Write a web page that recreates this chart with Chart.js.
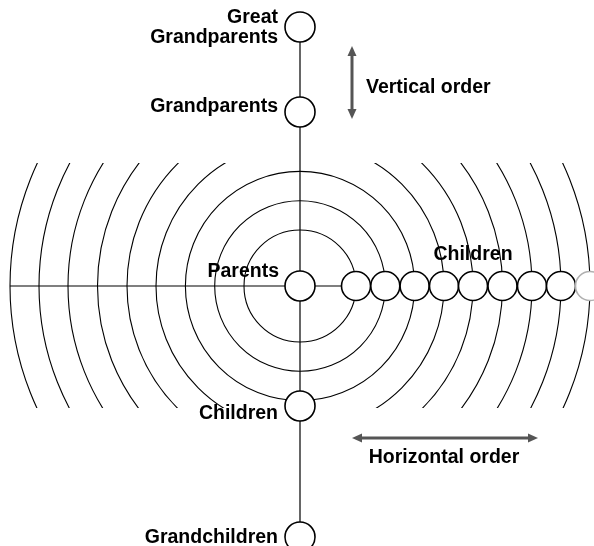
<!DOCTYPE html>
<html>
<head>
<meta charset="utf-8">
<script src="https://cdn.jsdelivr.net/npm/chart.js@4"></script>
<style>
  html, body { margin: 0; padding: 0; background: #fff; }
  #wrap { width: 594px; height: 546px; }
</style>
</head>
<body>
<div id="wrap"><canvas id="family"></canvas></div>
<script>
// generations on the vertical axis (center = Parents)
const genLabels = ['Great\nGrandparents', 'Grandparents', 'Parents', 'Children', 'Grandchildren'];
const genY = [259, 174, 0, -120, -251];

// rings = horizontal order of children
const ringRadii = [56, 85.3, 114.6, 144, 173, 202.5, 232, 261, 290];
const childX = ringRadii;
const fullRings = 3;          // inner rings drawn complete
const ringBand = [123, -122]; // outer rings cut to this y range

// arrows  [x1, y1, x2, y2]
const vArrow = [52, 240, 52, 167];
const hArrow = [52, -152, 238, -152];
const vArrowText = 'Vertical order';
const hArrowText = 'Horizontal order';
const childRowText = 'Children';

const FONT = 'bold 19.5px "Liberation Sans", Arial, sans-serif';
const PAD = 17; // layout padding, must exceed the point overflow
const W = 594, H = 546, CX = 300, CY = 286; // canvas size and where the center sits

const ringsPlugin = {
  id: 'rings',
  beforeDatasetsDraw(chart) {
    const { ctx, scales: { x, y } } = chart;
    const cx = x.getPixelForValue(0), cy = y.getPixelForValue(0);
    const top = y.getPixelForValue(ringBand[0]), bot = y.getPixelForValue(ringBand[1]);
    ctx.save();
    ctx.strokeStyle = '#000';
    ctx.lineWidth = 1.1;
    ringRadii.forEach((r, i) => {
      const rp = x.getPixelForValue(r) - cx;
      ctx.save();
      if (i >= fullRings) {
        ctx.beginPath();
        ctx.rect(0, top, chart.width, bot - top);
        ctx.clip();
      }
      ctx.beginPath();
      ctx.arc(cx, cy, rp, 0, Math.PI * 2);
      ctx.stroke();
      ctx.restore();
    });
    ctx.restore();
  }
};

function arrow(ctx, x1, y1, x2, y2) {
  const ang = Math.atan2(y2 - y1, x2 - x1);
  const L = 10, HW = 4.5;
  ctx.beginPath();
  ctx.moveTo(x1 + Math.cos(ang) * L, y1 + Math.sin(ang) * L);
  ctx.lineTo(x2 - Math.cos(ang) * L, y2 - Math.sin(ang) * L);
  ctx.stroke();
  [[x2, y2, ang], [x1, y1, ang + Math.PI]].forEach(([tx, ty, a]) => {
    ctx.beginPath();
    ctx.moveTo(tx, ty);
    ctx.lineTo(tx - Math.cos(a) * L - Math.sin(a) * HW, ty - Math.sin(a) * L + Math.cos(a) * HW);
    ctx.lineTo(tx - Math.cos(a) * L + Math.sin(a) * HW, ty - Math.sin(a) * L - Math.cos(a) * HW);
    ctx.closePath();
    ctx.fill();
  });
}

// per-label placement: [dx px, dy px of baseline]
const labelPos = [[-22, -4], [-22, 0], [-21, -9], [-22, 13], [-22, 6]];

const textPlugin = {
  id: 'texts',
  afterDatasetsDraw(chart) {
    const { ctx, scales: { x, y } } = chart;
    ctx.save();
    ctx.fillStyle = '#555';
    ctx.strokeStyle = '#555';
    ctx.lineWidth = 3;
    const px = v => x.getPixelForValue(v), py = v => y.getPixelForValue(v);
    arrow(ctx, px(vArrow[0]), py(vArrow[1]), px(vArrow[2]), py(vArrow[3]));
    arrow(ctx, px(hArrow[0]), py(hArrow[1]), px(hArrow[2]), py(hArrow[3]));

    ctx.fillStyle = '#000';
    ctx.font = FONT;
    ctx.textBaseline = 'alphabetic';
    ctx.textAlign = 'right';
    genLabels.forEach((t, i) => {
      const lines = t.split('\n');
      const bx = px(0) + labelPos[i][0];
      const by = py(genY[i]) + labelPos[i][1];
      lines.forEach((ln, k) => ctx.fillText(ln, bx, by + k * 19.5));
    });
    ctx.textAlign = 'left';
    ctx.fillText(vArrowText, px(66), py(193));
    ctx.textAlign = 'center';
    ctx.fillText(hArrowText, px(144), py(-177));
    ctx.fillText(childRowText, px(childX[4]), py(0) - 26);
    ctx.restore();
  }
};

new Chart(document.getElementById('family'), {
  type: 'scatter',
  data: {
    datasets: [
      {
        data: genY.map(v => ({ x: 0, y: v })),
        pointRadius: 15,
        pointBackgroundColor: '#fff',
        pointBorderColor: '#000',
        pointBorderWidth: 1.6,
        clip: false,
        order: 0
      },
      {
        data: childX.map(v => ({ x: v, y: 0 })),
        pointRadius: 14.5,
        pointBackgroundColor: '#fff',
        pointBorderColor: childX.map((v, i) => i === childX.length - 1 ? '#b0b0b0' : '#000'),
        pointBorderWidth: 1.6,
        clip: false,
        order: 0
      },
      {
        type: 'line',
        data: [{ x: 0, y: genY[0] }, { x: 0, y: genY[genY.length - 1] }],
        borderColor: '#000',
        borderWidth: 1.2,
        pointRadius: 0,
        clip: false,
        order: 1
      },
      {
        type: 'line',
        data: [{ x: -ringRadii[ringRadii.length - 1], y: 0 }, { x: childX[0], y: 0 }],
        borderColor: '#000',
        borderWidth: 1.2,
        pointRadius: 0,
        clip: false,
        order: 1
      }
    ]
  },
  options: {
    responsive: true,
    maintainAspectRatio: false,
    animation: false,
    layout: { padding: PAD },
    plugins: { legend: { display: false }, tooltip: { enabled: false } },
    scales: {
      x: { type: 'linear', min: PAD - CX, max: W - PAD - CX, display: false },
      y: { type: 'linear', min: CY - H + PAD, max: CY - PAD, display: false }
    }
  },
  plugins: [ringsPlugin, textPlugin]
});
</script>
</body>
</html>
